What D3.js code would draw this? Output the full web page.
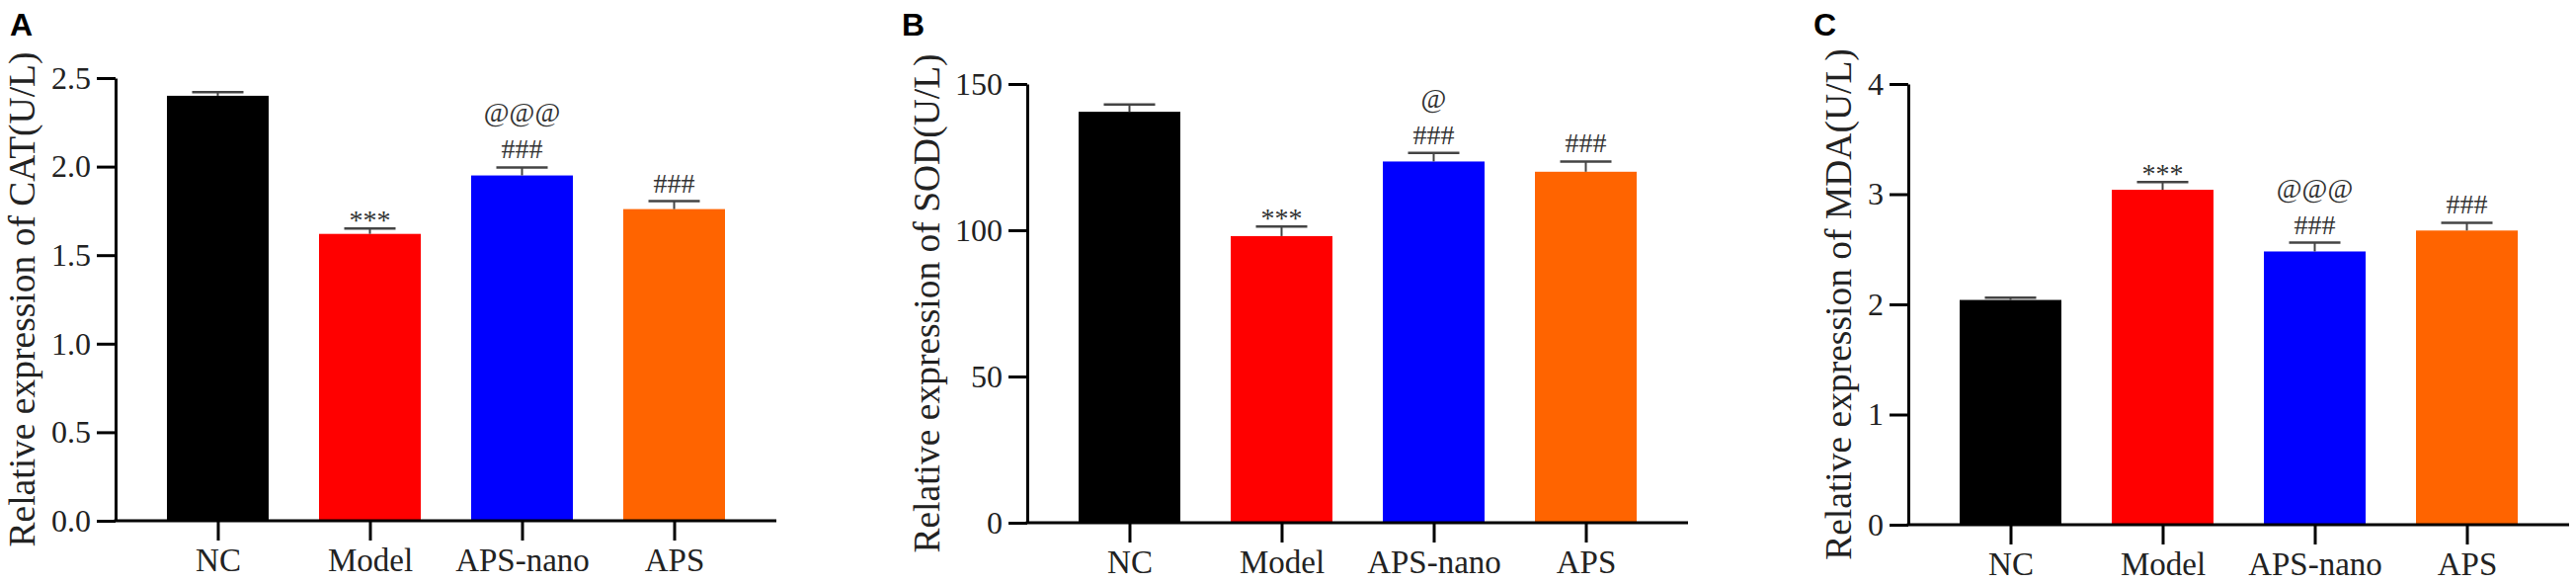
<!DOCTYPE html>
<html>
<head>
<meta charset="utf-8">
<script src="https://cdn.jsdelivr.net/npm/d3@7"></script>
<style>
  body { margin: 0; background: #fff; }
  svg { display: block; }
</style>
</head>
<body>
<div id="chart"></div>
<script>
// Groups shared by all three panels
const groups = ["NC", "Model", "APS-nano", "APS"];
const barColors = ["#000000", "#ff0000", "#0000ff", "#ff6400"];

// Panel A - CAT
const catMeans = [2.40, 1.62, 1.95, 1.76];
const catSem = [0.02, 0.03, 0.045, 0.045];
const catTicks = [0, 0.5, 1.0, 1.5, 2.0, 2.5];
const catMarks = ["", "***", "###", "###"];
const catMarksTop = ["", "", "@@@", ""];

// Panel B - SOD
const sodMeans = [140.5, 98, 123.5, 120];
const sodSem = [2.5, 3.3, 2.9, 3.5];
const sodTicks = [0, 50, 100, 150];
const sodMarks = ["", "***", "###", "###"];
const sodMarksTop = ["", "", "@", ""];

// Panel C - MDA
const mdaMeans = [2.04, 3.04, 2.48, 2.67];
const mdaSem = [0.02, 0.07, 0.08, 0.07];
const mdaTicks = [0, 1, 2, 3, 4];
const mdaMarks = ["", "***", "###", "###"];
const mdaMarksTop = ["", "", "@@@", ""];

const panels = [
  { letter: "A", title: "Relative expression of CAT(U/L)", means: catMeans, sem: catSem,
    ticks: catTicks, fmt: d3.format(".1f"), marks: catMarks, marksTop: catMarksTop,
    axisX: 117, y0: 527, yTop: 79, letterX: 10, titleGap: 82 },
  { letter: "B", title: "Relative expression of SOD(U/L)", means: sodMeans, sem: sodSem,
    ticks: sodTicks, fmt: d3.format("d"), marks: sodMarks, marksTop: sodMarksTop,
    axisX: 1040, y0: 529, yTop: 85, letterX: 913, titleGap: 89 },
  { letter: "C", title: "Relative expression of MDA(U/L)", means: mdaMeans, sem: mdaSem,
    ticks: mdaTicks, fmt: d3.format("d"), marks: mdaMarks, marksTop: mdaMarksTop,
    axisX: 1932, y0: 531, yTop: 85, letterX: 1836, titleGap: 58 }
];

const width = 2608, height = 591;
const plotW = 669, barW = 103, capW = 52;
const serif = "'Liberation Serif', 'Times New Roman', serif";

const svg = d3.select("#chart").append("svg")
  .attr("width", width)
  .attr("height", height);

panels.forEach(p => {
  const x = d3.scalePoint()
    .domain(groups)
    .range([p.axisX, p.axisX + plotW])
    .padding(0.672);
  const y = d3.scaleLinear()
    .domain([0, d3.max(p.ticks)])
    .range([p.y0, p.yTop]);

  const g = svg.append("g");
  const rows = groups.map((k, i) => ({ k, i, m: p.means[i], s: p.sem[i] }));

  // bars
  g.selectAll("rect.bar")
    .data(rows)
    .join("rect")
    .attr("class", "bar")
    .attr("x", d => x(d.k) - barW / 2)
    .attr("width", barW)
    .attr("y", d => y(d.m))
    .attr("height", d => y(0) - y(d.m))
    .attr("fill", d => barColors[d.i]);

  // error bars (upper only)
  const err = g.selectAll("g.err").data(rows).join("g").attr("class", "err");
  err.append("line")
    .attr("x1", d => x(d.k)).attr("x2", d => x(d.k))
    .attr("y1", d => y(d.m)).attr("y2", d => y(d.m + d.s))
    .attr("stroke", "#444").attr("stroke-width", 2);
  err.append("line")
    .attr("x1", d => x(d.k) - capW / 2).attr("x2", d => x(d.k) + capW / 2)
    .attr("y1", d => y(d.m + d.s)).attr("y2", d => y(d.m + d.s))
    .attr("stroke", "#444").attr("stroke-width", 2.5);

  // significance marks
  g.selectAll("text.mark")
    .data(rows.filter(d => p.marks[d.i]))
    .join("text")
    .attr("class", "mark")
    .attr("x", d => x(d.k))
    .attr("y", d => y(d.m + d.s) - (p.marks[d.i] === "***" ? -1 : 9))
    .attr("text-anchor", "middle")
    .style("font-family", serif)
    .style("font-size", "28px")
    .style("fill", "#333")
    .text(d => p.marks[d.i]);

  g.selectAll("text.markTop")
    .data(rows.filter(d => p.marksTop[d.i]))
    .join("text")
    .attr("class", "markTop")
    .attr("x", d => x(d.k))
    .attr("y", d => y(d.m + d.s) - 46)
    .attr("text-anchor", "middle")
    .style("font-family", serif)
    .style("font-size", "28px")
    .style("fill", "#333")
    .text(d => p.marksTop[d.i]);

  // y axis
  const yAxis = g.append("g")
    .attr("transform", `translate(${p.axisX},0)`)
    .call(d3.axisLeft(y).tickValues(p.ticks).tickFormat(p.fmt)
      .tickSize(19).tickSizeOuter(0).tickPadding(6));

  // x axis
  const xAxis = g.append("g")
    .attr("transform", `translate(0,${p.y0})`)
    .call(d3.axisBottom(x).tickSize(20).tickSizeOuter(0).tickPadding(8));

  [yAxis, xAxis].forEach(a => {
    a.select(".domain").attr("stroke", "#000").attr("stroke-width", 3);
    a.selectAll(".tick line").attr("stroke", "#000").attr("stroke-width", 3);
    a.selectAll(".tick text")
      .style("font-family", serif)
      .style("font-size", "32px")
      .style("fill", "#222");
  });
  xAxis.selectAll(".tick text").style("font-size", "33px");
  xAxis.select(".domain").attr("d", `M${p.axisX - 1.5},0H${p.axisX + plotW}`);

  // y title
  g.append("text")
    .attr("transform", `translate(${p.axisX - p.titleGap},${(p.y0 + p.yTop) / 2}) rotate(-90)`)
    .attr("text-anchor", "middle")
    .style("font-family", serif)
    .style("font-size", "37.5px")
    .style("fill", "#222")
    .text(p.title);

  // panel letter
  g.append("text")
    .attr("x", p.letterX)
    .attr("y", 36)
    .style("font-family", "'Liberation Sans', Arial, sans-serif")
    .style("font-weight", "bold")
    .style("font-size", "32px")
    .style("fill", "#000")
    .text(p.letter);
});
</script>
</body>
</html>
